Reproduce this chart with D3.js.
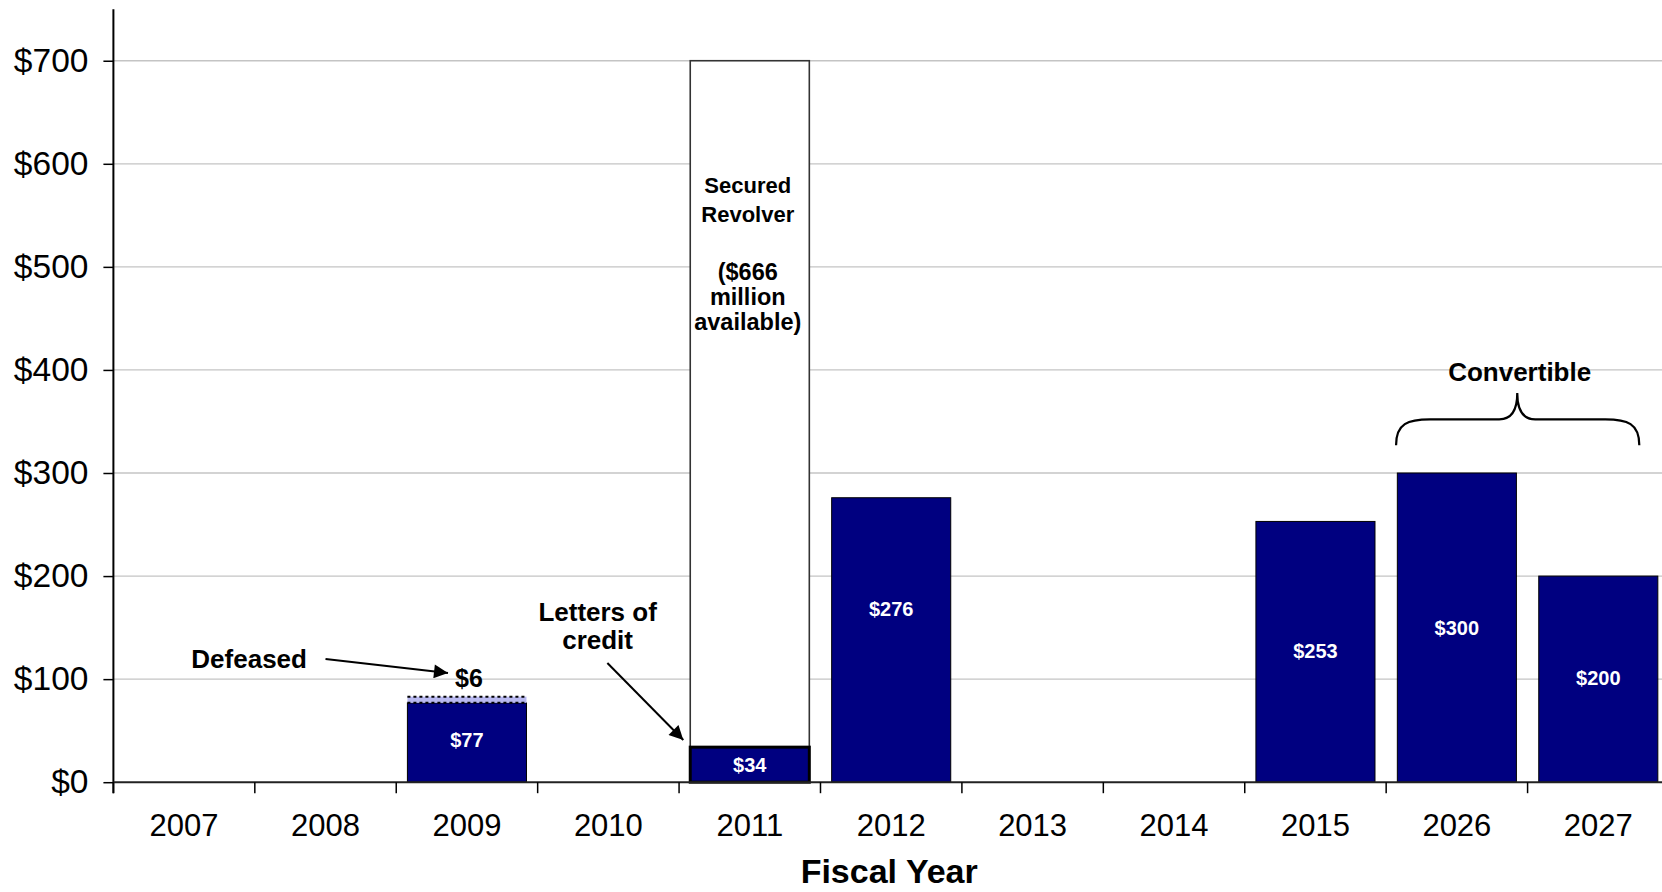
<!DOCTYPE html>
<html>
<head>
<meta charset="utf-8">
<script src="https://cdn.jsdelivr.net/npm/d3@7"></script>
<style>
  html, body { margin: 0; padding: 0; background: #fff; }
  svg { display: block; font-family: "Liberation Sans", Arial, sans-serif; }
</style>
</head>
<body>
<svg id="chart" width="1662" height="892"></svg>
<script>
// ---------- data ----------
const categories = ["2007","2008","2009","2010","2011","2012","2013","2014","2015","2026","2027"];
const debtValues = [0, 0, 77, 0, 34, 276, 0, 0, 253, 300, 200];
const defeasedValues = [0, 0, 6, 0, 0, 0, 0, 0, 0, 0, 0];
const revolverAvailable = [0, 0, 0, 0, 666, 0, 0, 0, 0, 0, 0];
const labelAt = [null, null, 40.5, null, 17, 168, null, null, 127.5, 150, 101];
const yTicks = [0, 100, 200, 300, 400, 500, 600, 700];
const xTitle = "Fiscal Year";

// ---------- layout ----------
const W = 1662, H = 892;
const x0 = 113.4, x1 = 1669, yBase = 782.2, yTop = 9.2;
const svg = d3.select("#chart");

const x = d3.scaleBand().domain(categories).range([x0, x1])
  .paddingInner(0.158).paddingOuter(0.079);
const y = d3.scaleLinear().domain([0, 750]).range([yBase, yTop]);
const bw = x.bandwidth();
const step = x.step();
const cx = c => x(c) + bw / 2;

const NAVY = "#000080";

// gridlines
svg.append("g").selectAll("line").data(yTicks.filter(d => d > 0)).join("line")
  .attr("x1", x0).attr("x2", W)
  .attr("y1", d => y(d)).attr("y2", d => y(d))
  .attr("stroke", "#c4c4c4").attr("stroke-width", 1.3);

const rows = categories.map((c, i) => ({
  c, debt: debtValues[i], def: defeasedValues[i], rev: revolverAvailable[i], lab: labelAt[i]
}));

// revolver (white) segments
svg.append("g").selectAll("rect").data(rows.filter(d => d.rev > 0)).join("rect")
  .attr("x", d => x(d.c)).attr("width", bw)
  .attr("y", d => y(d.debt + d.rev))
  .attr("height", d => y(d.debt) - y(d.debt + d.rev))
  .attr("fill", "#fff").attr("stroke", "#333").attr("stroke-width", 1.6);

// navy debt bars
svg.append("g").selectAll("rect").data(rows.filter(d => d.debt > 0)).join("rect")
  .attr("x", d => x(d.c)).attr("width", bw)
  .attr("y", d => y(d.debt))
  .attr("height", d => y(0) - y(d.debt))
  .attr("fill", NAVY).attr("stroke", "#000")
  .attr("stroke-width", d => d.rev > 0 ? 3 : 1);

// defeased segments
const defG = svg.append("g");
rows.filter(d => d.def > 0).forEach(d => {
  defG.append("rect")
    .attr("x", x(d.c)).attr("width", bw)
    .attr("y", y(d.debt + d.def)).attr("height", y(d.debt) - y(d.debt + d.def))
    .attr("fill", "#b8b8f0");
  [d.debt + d.def, d.debt].forEach(v => {
    defG.append("line")
      .attr("x1", x(d.c)).attr("x2", x(d.c) + bw)
      .attr("y1", y(v)).attr("y2", y(v))
      .attr("stroke", "#000").attr("stroke-width", 2).attr("stroke-dasharray", "3,3");
  });
});

// value labels inside bars
svg.append("g").selectAll("text").data(rows.filter(d => d.debt > 0)).join("text")
  .attr("x", d => cx(d.c)).attr("y", d => y(d.lab))
  .attr("text-anchor", "middle").attr("dominant-baseline", "central")
  .attr("fill", "#fff").attr("font-weight", "bold").attr("font-size", 20)
  .text(d => "$" + d.debt);

// y axis
const yAxis = d3.axisLeft(y).tickValues(yTicks).tickFormat(d => "$" + d)
  .tickSize(10).tickPadding(15);
const yg = svg.append("g").attr("transform", `translate(${x0},0)`).call(yAxis);
yg.select(".domain").remove();
yg.selectAll(".tick line").attr("stroke", "#000").attr("stroke-width", 1.5);
yg.selectAll(".tick text").attr("font-size", 33.5).attr("fill", "#000")
  .attr("font-family", "Liberation Sans, Arial, sans-serif");
svg.append("line").attr("x1", x0).attr("x2", x0).attr("y1", yTop).attr("y2", yBase + 11)
  .attr("stroke", "#000").attr("stroke-width", 2);

// x axis
const xAxis = d3.axisBottom(x).tickSize(0);
const xg = svg.append("g").attr("transform", `translate(0,${yBase})`).call(xAxis);
xg.select(".domain").remove();
xg.selectAll(".tick text").attr("font-size", 31).attr("fill", "#000")
  .attr("y", 54).attr("dy", 0)
  .attr("font-family", "Liberation Sans, Arial, sans-serif");
svg.append("line").attr("x1", x0).attr("x2", W).attr("y1", yBase).attr("y2", yBase)
  .attr("stroke", "#222").attr("stroke-width", 2);
svg.append("g").selectAll("line").data(d3.range(categories.length + 1)).join("line")
  .attr("x1", i => x0 + i * step).attr("x2", i => x0 + i * step)
  .attr("y1", yBase).attr("y2", yBase + 11)
  .attr("stroke", "#000").attr("stroke-width", 1.5);

// x title
svg.append("text").attr("x", (x0 + x1) / 2 - 2).attr("y", 883)
  .attr("text-anchor", "middle").attr("font-weight", "bold").attr("font-size", 34)
  .text(xTitle);

// ---------- annotations ----------
const defs = svg.append("defs");
defs.append("marker").attr("id", "arrow").attr("viewBox", "0 0 10 10")
  .attr("refX", 10).attr("refY", 5).attr("markerWidth", 22).attr("markerHeight", 14)
  .attr("markerUnits", "userSpaceOnUse").attr("orient", "auto")
  .append("path").attr("d", "M0,0 L10,5 L0,10 z").attr("fill", "#000");

const ann = svg.append("g").attr("font-weight", "bold").attr("fill", "#000");

// Defeased
ann.append("text").attr("x", cx("2008") - 0.54 * step).attr("y", 668)
  .attr("text-anchor", "middle").attr("font-size", 26).text("Defeased");
svg.append("line").attr("x1", cx("2008")).attr("y1", y(119.5))
  .attr("x2", cx("2009") - 0.134 * step).attr("y2", y(106))
  .attr("stroke", "#000").attr("stroke-width", 2).attr("marker-end", "url(#arrow)");
ann.append("text").attr("x", cx("2009") + 2).attr("y", y(92.5))
  .attr("text-anchor", "middle").attr("font-size", 25).text("$6");

// Letters of credit
ann.append("text").attr("x", cx("2010") - 0.076 * step).attr("y", y(156.4))
  .attr("text-anchor", "middle").attr("font-size", 26).text("Letters of");
ann.append("text").attr("x", cx("2010") - 0.076 * step).attr("y", y(129))
  .attr("text-anchor", "middle").attr("font-size", 26).text("credit");
svg.append("line").attr("x1", cx("2010") - 1).attr("y1", y(115.7))
  .attr("x2", cx("2011") - 0.47 * step).attr("y2", y(41))
  .attr("stroke", "#000").attr("stroke-width", 2).attr("marker-end", "url(#arrow)");

// Secured revolver text
const rc = cx("2011");
[["Secured", 193, 22], ["Revolver", 222, 22], ["($666", 280, 23.5], ["million", 305, 23.5], ["available)", 330, 23.5]]
  .forEach(([t, yy, fs]) => {
    ann.append("text").attr("x", rc - 2).attr("y", yy)
      .attr("text-anchor", "middle").attr("font-size", fs).text(t);
  });

// Convertible brace
ann.append("text").attr("x", cx("2026") + 0.444 * step).attr("y", y(389))
  .attr("text-anchor", "middle").attr("font-size", 26).text("Convertible");
const L = cx("2026") - 0.43 * step, R = cx("2027") + 0.29 * step, T = cx("2026") + 0.427 * step;
const yb = y(327), yh = y(352), yt = y(377.5);
const p = d3.path();
p.moveTo(L, yb);
p.bezierCurveTo(L, yh + 4, L + 12, yh, L + 34, yh);
p.lineTo(T - 18, yh);
p.bezierCurveTo(T - 6, yh, T, yh - 8, T, yt);
p.bezierCurveTo(T, yh - 8, T + 6, yh, T + 18, yh);
p.lineTo(R - 34, yh);
p.bezierCurveTo(R - 12, yh, R, yh + 4, R, yb);
svg.append("path").attr("d", p.toString()).attr("fill", "none")
  .attr("stroke", "#000").attr("stroke-width", 2.2);
</script>
</body>
</html>
